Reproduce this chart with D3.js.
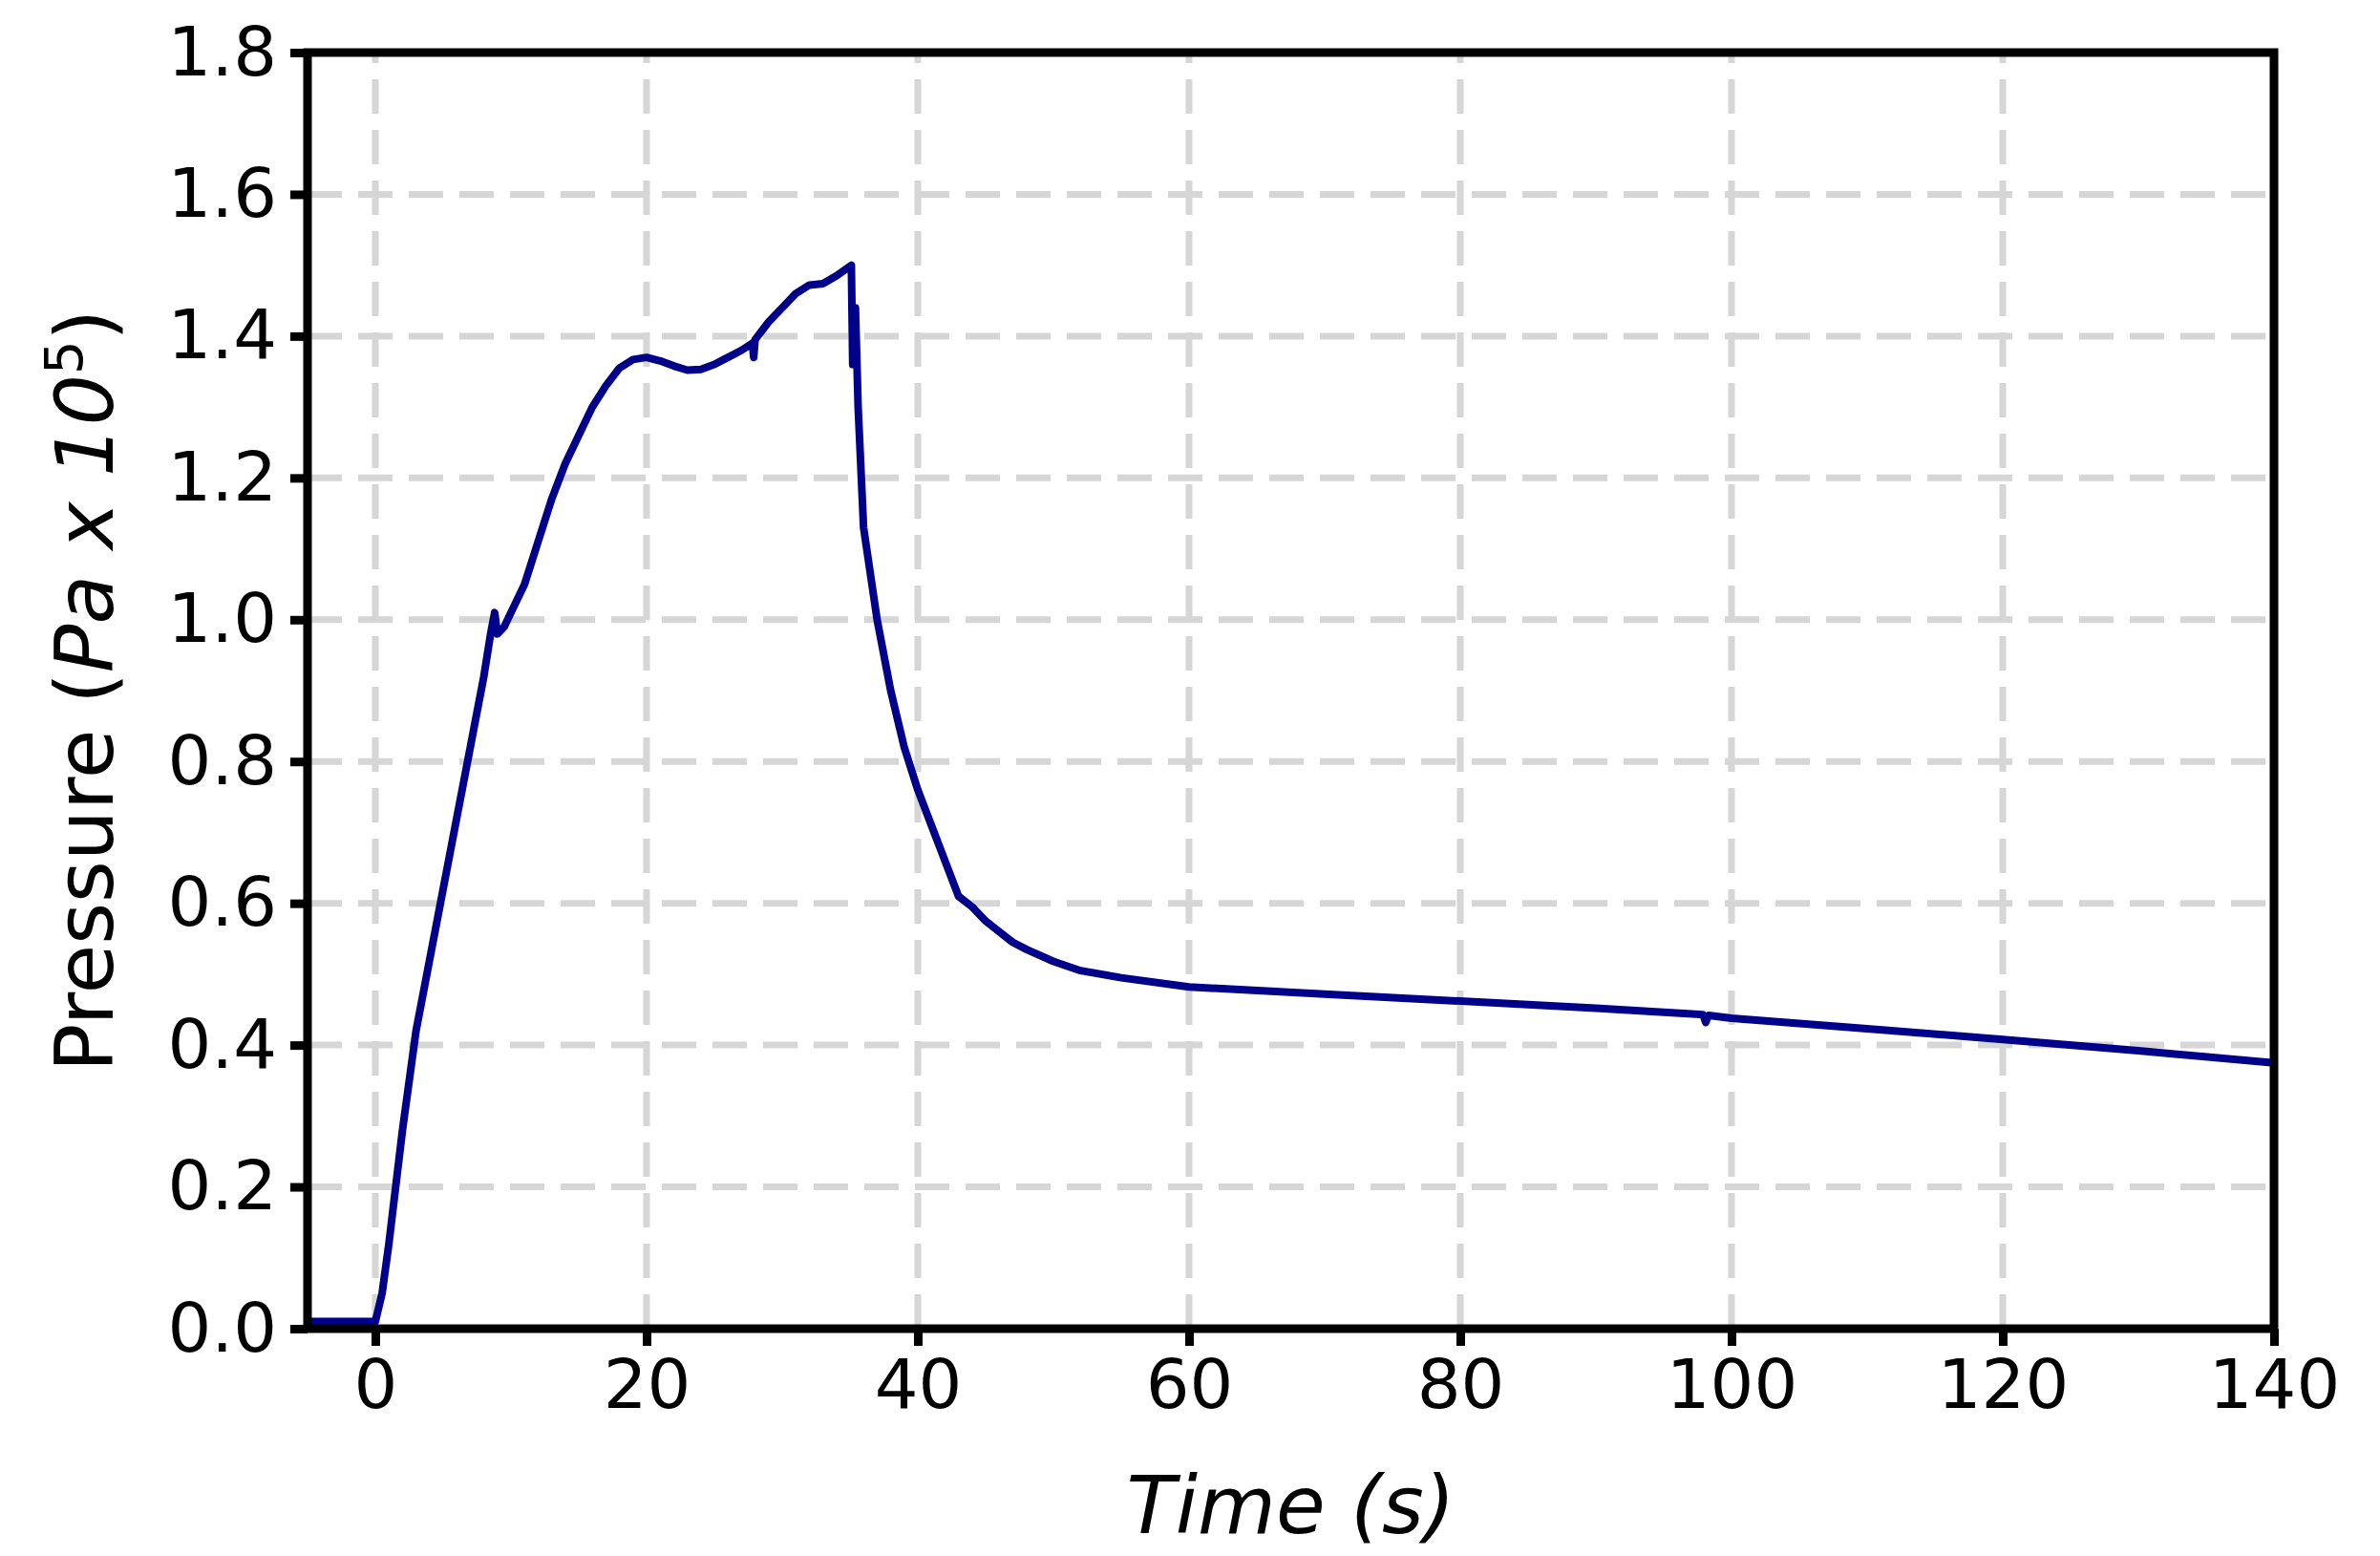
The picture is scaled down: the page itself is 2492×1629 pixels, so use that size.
<!DOCTYPE html>
<html><head><meta charset="utf-8">
<script src="https://cdn.jsdelivr.net/npm/d3@7"></script>
<style>body{margin:0;background:#fff}svg{display:block}text{font-family:"DejaVu Sans",sans-serif}</style>
</head><body>
<script>
const timeS = [-5,0,0.5,1,2,3,4,5,6,7,8,8.5,8.8,9,9.5,10,11,12,13,14,15,16,17,18,19,20,21,22,23,24,25,26,27,27.8,27.9,28,29,30,31,32,33,34,35.1,35.2,35.4,35.6,36,37,38,39,40,41,42,43,44,45,46,47,48,50,52,55,60,70,80,90,97.9,98.1,98.3,100,110,120,130,140];
const pressure = [0.01,0.01,0.05,0.12,0.28,0.42,0.52,0.62,0.72,0.82,0.92,0.98,1.01,0.98,0.99,1.01,1.05,1.11,1.17,1.22,1.26,1.30,1.33,1.355,1.367,1.37,1.365,1.358,1.352,1.353,1.36,1.37,1.38,1.39,1.37,1.395,1.42,1.44,1.46,1.472,1.474,1.485,1.5,1.36,1.44,1.3,1.13,1.0,0.9,0.82,0.76,0.71,0.66,0.61,0.595,0.575,0.56,0.545,0.535,0.518,0.505,0.495,0.482,0.472,0.462,0.452,0.443,0.432,0.442,0.438,0.423,0.408,0.392,0.375];
const xTicks = [0,20,40,60,80,100,120,140];
const yTicks = [0,0.2,0.4,0.6,0.8,1.0,1.2,1.4,1.6,1.8];

const W=2492,H=1629, L=322,R=2381,T=55,B=1391;
const svg=d3.select("body").append("svg").attr("width",W).attr("height",H);
const x=d3.scaleLinear().domain([-5,140]).range([L,R]);
const y=d3.scaleLinear().domain([0,1.8]).range([B,T]);
const grid=svg.append("g").attr("stroke","#d6d6d6").attr("stroke-width",7).attr("stroke-dasharray","36,17");
xTicks.forEach(t=>grid.append("line").attr("x1",x(t)).attr("x2",x(t)).attr("y1",B).attr("y2",T));
yTicks.forEach(t=>grid.append("line").attr("x1",L).attr("x2",R).attr("y1",y(t)).attr("y2",y(t)));
svg.append("path").datum(timeS.map((t,i)=>[t,pressure[i]]))
  .attr("d",d3.line().x(d=>x(d[0])).y(d=>y(d[1])))
  .attr("fill","none").attr("stroke","#00008b").attr("stroke-width",8).attr("stroke-linejoin","round");
const xa=svg.append("g").attr("transform",`translate(0,${B})`).call(d3.axisBottom(x).tickValues(xTicks).tickSize(18).tickPadding(14).tickFormat(d3.format("d")));
const ya=svg.append("g").attr("transform",`translate(${L},0)`).call(d3.axisLeft(y).tickValues(yTicks).tickSize(18).tickPadding(14).tickFormat(d3.format(".1f")));
[xa,ya].forEach(a=>{a.select(".domain").remove();a.selectAll("line").attr("stroke","#000").attr("stroke-width",9);a.selectAll("text").attr("font-size",72).attr("fill","#000").attr("font-family","DejaVu Sans");});
svg.append("rect").attr("x",L).attr("y",T).attr("width",R-L).attr("height",B-T).attr("fill","none").attr("stroke","#000").attr("stroke-width",9);
svg.append("text").attr("x",(L+R)/2).attr("y",1605).attr("text-anchor","middle").attr("font-size",84).attr("font-style","italic").text("Time (s)");
const yl=svg.append("text").attr("transform",`translate(118,${(T+B)/2}) rotate(-90)`).attr("text-anchor","middle").attr("font-size",84);
yl.append("tspan").text("Pressure (");
yl.append("tspan").attr("font-style","italic").text("Pa x 10");
yl.append("tspan").attr("font-size",56).attr("dy",-32).text("5");
yl.append("tspan").attr("dy",32).text(")");
</script>
</body></html>
